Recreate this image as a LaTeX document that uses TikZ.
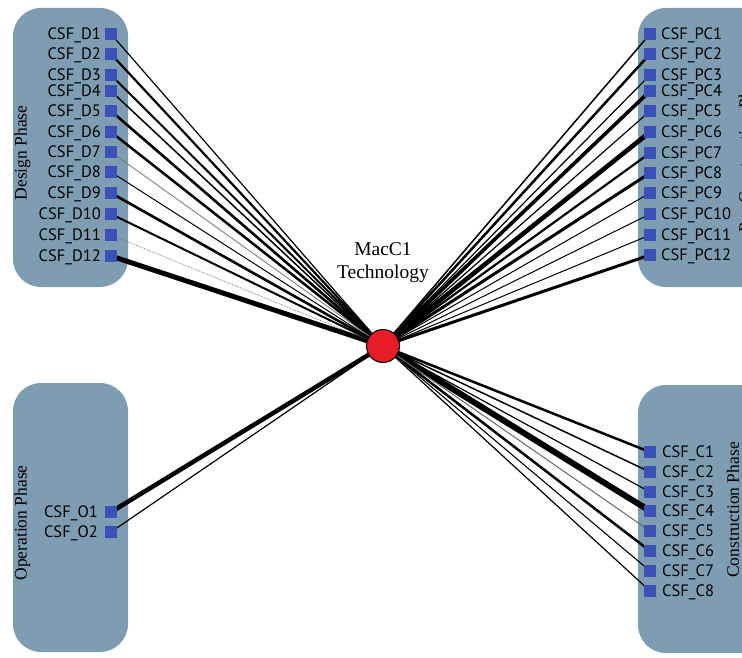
\documentclass[tikz,border=0pt]{standalone}
\usepackage{fontspec}
\setmainfont{Liberation Serif}
\newfontfamily\labfont{PT Sans}
\definecolor{boxc}{RGB}{127,157,178}
\definecolor{sqc}{RGB}{58,82,184}
\definecolor{redc}{RGB}{232,28,36}
\pgfdeclarelayer{boxes}
\pgfdeclarelayer{edges}
\pgfsetlayers{boxes,edges,main}
\tikzset{
  phase/.style={fill=boxc, draw=none, rounded corners=28pt},
  sq/.style={fill=sqc, draw=none, minimum size=12pt, inner sep=0pt},
  lbl/.style={font=\labfont\fontsize{16.5}{17}\selectfont, inner sep=0pt},
  plab/.style={font=\fontsize{17.5}{18}\selectfont, rotate=90, inner sep=0pt},
  tlab/.style={font=\fontsize{19.5}{23}\selectfont, align=center, inner sep=0pt},
  link/.style={draw=black, line cap=butt},
  hub/.style={circle, fill=redc, draw=black, line width=1pt, minimum size=33pt, inner sep=0pt}
}
\begin{document}
\begin{tikzpicture}[x=1pt,y=-1pt]
\useasboundingbox (0,0) rectangle (742,658);
% phase boxes
\begin{pgfonlayer}{boxes}
\path[phase] (13,8) rectangle (128,287);
\path[phase] (13,383) rectangle (128,652);
\path[phase] (638,8) rectangle (780,287);
\path[phase] (638,385) rectangle (780,653);
\end{pgfonlayer}
% phase labels
\node[plab] (designlab) at (22.5,153) {Design Phase};
\node[plab] (oplab) at (22.5,523) {Operation Phase};
\node[plab] (pclab) at (745,150) {Pre-Construction Phase};
\node[plab] (clab) at (733,510) {Construction Phase};
% hub
\node[hub] (tech) at (383,346) {};
\node[tlab] (techlab) at (383,263) {MacC1\\Technology};
% design
\foreach \i/\y in {1/34,2/54,3/75,4/91,5/111,6/132,7/152,8/172,9/193,10/214,11/235,12/256}{
  \node[sq] (d\i) at (111,\y) {};
  \node[lbl, anchor=base east] (dl\i) at (101,\y+5.5) {CSF\_D\i};
}
% pre-construction
\foreach \i/\y in {1/34,2/54,3/75,4/91,5/111,6/132,7/153,8/173,9/193,10/214,11/235,12/255}{
  \node[sq] (p\i) at (650,\y) {};
  \node[lbl, anchor=base west] (pl\i) at (661,\y+5.5) {CSF\_PC\i};
}
% operation
\foreach \i/\y in {1/512,2/532}{
  \node[sq] (o\i) at (111,\y) {};
  \node[lbl, anchor=base east] (ol\i) at (98,\y+5.5) {CSF\_O\i};
}
% construction
\foreach \i/\y in {1/452,2/472,3/492,4/511,5/531,6/551,7/571,8/591}{
  \node[sq] (c\i) at (650,\y) {};
  \node[lbl, anchor=base west] (cl\i) at (662,\y+5.5) {CSF\_C\i};
}
% links
\begin{pgfonlayer}{edges}
\foreach \i/\w in {1/1.2,2/2.2,3/2.0,4/1.5,5/2.6,6/2.5,8/1.0,9/2.6,10/2.0,12/5.0}{
  \draw[link, line width=\w pt] (d\i.center) -- (tech.center);
}
\draw[link, draw=black!55, line width=0.8pt] (d7.center) -- (tech.center);
\draw[link, draw=black!60, line width=0.7pt, densely dotted] (d11.center) -- (tech.center);
\foreach \i/\w in {1/1.5,2/2.5,3/1.2,4/3.6,5/1.2,6/4.6,7/2.2,8/3.0,9/1.0,10/1.0,11/1.0,12/3.0}{
  \draw[link, line width=\w pt] (p\i.center) -- (tech.center);
}
\foreach \i/\w in {1/4.5,2/1.2}{
  \draw[link, line width=\w pt] (o\i.center) -- (tech.center);
}
\foreach \i/\w in {1/2.5,2/1.5,3/1.2,4/6.0,6/2.5,7/1.1,8/1.2}{
  \draw[link, line width=\w pt] (c\i.center) -- (tech.center);
}
\draw[link, draw=black!60, line width=1pt] (c5.center) -- (tech.center);
\end{pgfonlayer}
\end{tikzpicture}
\end{document}
